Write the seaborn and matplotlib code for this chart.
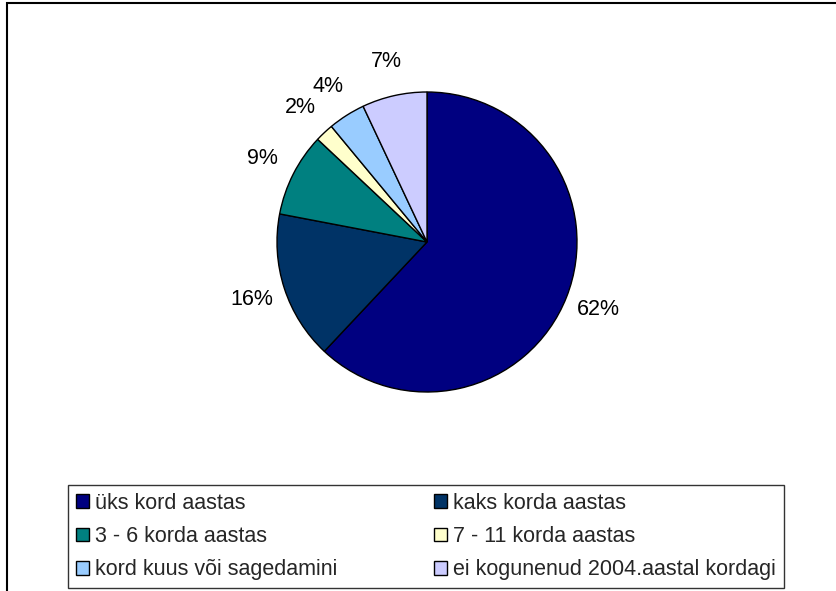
import matplotlib
matplotlib.use("Agg")
import matplotlib.pyplot as plt
import matplotlib.patches as mpatches
import seaborn as sns

# Meeting frequency in 2004 (share of respondents, %)
categories = [
    "üks kord aastas",
    "kaks korda aastas",
    "3 - 6 korda aastas",
    "7 - 11 korda aastas",
    "kord kuus või sagedamini",
    "ei kogunenud 2004.aastal kordagi",
]
shares = [62, 16, 9, 2, 4, 7]
slice_colors = ["#000080", "#003366", "#008080", "#FFFFCC", "#99CCFF", "#CCCCFF"]

sns.set_theme(style="white")
plt.rcParams["font.family"] = ["Liberation Sans", "DejaVu Sans"]
palette = sns.color_palette(slice_colors)

W, H = 837, 591
fig = plt.figure(figsize=(W / 100, H / 100), dpi=100)
fig.patch.set_facecolor("white")

# Outer chart border (runs off the right and bottom edges)
fig.add_artist(mpatches.Rectangle(
    (7 / W, -0.2), 1.3, 1 - 3 / H + 0.2,
    transform=fig.transFigure, fill=False, edgecolor="black",
    linewidth=1.5, clip_on=False))

# Pie axes: centre (427, 242) px, radius 150 px
cx, cy, r = 427, 242, 150
lim = 1.6
side = 2 * lim * r
ax = fig.add_axes([(cx - side / 2) / W, (H - cy - side / 2) / H, side / W, side / H])

wedges, texts = ax.pie(
    shares,
    labels=[f"{v}%" for v in shares],
    colors=palette,
    startangle=90,
    counterclock=False,
    labeldistance=1.23,
    wedgeprops=dict(edgecolor="black", linewidth=1.0),
    textprops=dict(fontsize=15.5, color="black"),
)
for t in texts:
    t.set_ha("center")
    t.set_va("center")

ax.set_xlim(-lim, lim)
ax.set_ylim(-lim, lim)
ax.set_aspect("equal")
ax.axis("off")

# Legend filled row by row (two entries per row)
ncol = 2
order = [i for c in range(ncol) for i in range(c, len(categories), ncol)]
leg = fig.legend(
    [wedges[i] for i in order], [categories[i] for i in order],
    loc="center", bbox_to_anchor=(426 / W, 1 - 536.5 / H),
    bbox_transform=fig.transFigure,
    ncol=ncol, fontsize=15.5,
    frameon=True, fancybox=False, shadow=False,
    handlelength=0.6, handleheight=0.6, handletextpad=0.28,
    columnspacing=4.5, borderpad=0.38, labelspacing=0.57,
    borderaxespad=0,
)
leg.get_frame().set_edgecolor("black")
leg.get_frame().set_linewidth(1.0)
for h in leg.legend_handles:
    h.set_edgecolor("black")
    h.set_linewidth(1.0)

fig.savefig("out.png", dpi=100, facecolor="white")
